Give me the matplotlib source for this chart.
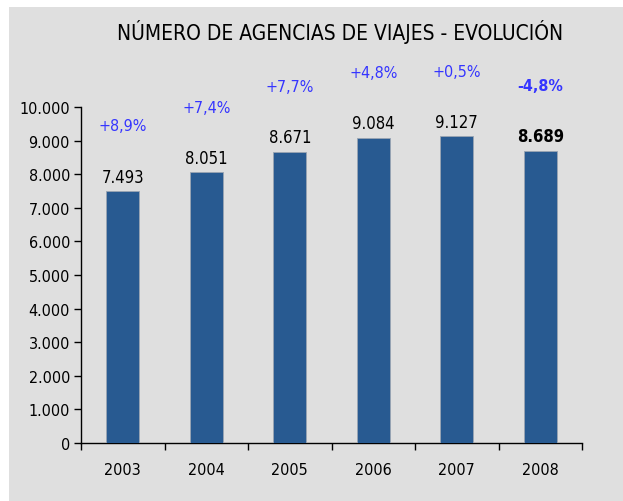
import matplotlib
matplotlib.use('Agg')
import matplotlib.pyplot as plt
from matplotlib.patches import Rectangle

# Chart data
years = ['2003', '2004', '2005', '2006', '2007', '2008']
agencias = [7493, 8051, 8671, 9084, 9127, 8689]
value_labels = ['7.493', '8.051', '8.671', '9.084', '9.127', '8.689']
pct_labels = ['+8,9%', '+7,4%', '+7,7%', '+4,8%', '+0,5%', '-4,8%']
yticks = [0, 1000, 2000, 3000, 4000, 5000, 6000, 7000, 8000, 9000, 10000]
ytick_labels = ['0', '1.000', '2.000', '3.000', '4.000', '5.000',
                '6.000', '7.000', '8.000', '9.000', '10.000']

plt.rcParams['font.family'] = ['DejaVu Sans']
plt.rcParams['font.stretch'] = 'condensed'

bg = '#dfdfdf'
bar_color = '#285a91'
pct_color = '#3535ff'

fig = plt.figure(figsize=(6.23, 5.02), dpi=100)
fig.patch.set_facecolor('white')

# gray panel behind the chart
bgax = fig.add_axes([0, 0, 1, 1], zorder=0)
bgax.set_axis_off()
bgax.add_patch(Rectangle((9 / 623, -0.01), 1, 1 - 8 / 502 + 0.01, transform=bgax.transAxes,
                         facecolor=bg, edgecolor='none'))

ax = fig.add_axes([81 / 623, 1 - 444 / 502, (582 - 81) / 623, (444 - 108) / 502], zorder=1)
ax.set_facecolor('none')

x = range(len(years))
bars = ax.bar(x, agencias, width=0.4, color=bar_color, edgecolor='#9aa5b3', linewidth=0.6, zorder=3)

ax.set_xlim(-0.5, len(years) - 0.5)
ax.set_ylim(0, 10000)
ax.set_yticks(yticks)
ax.set_yticklabels(ytick_labels, fontsize=11.5)
ax.set_xticks(list(x))
ax.set_xticklabels(years, fontsize=11.5)
# category boundary ticks on the x axis
ax.set_xticks([i - 0.5 for i in range(len(years) + 1)], minor=True)
ax.tick_params(axis='x', which='major', length=0, pad=14)
ax.tick_params(axis='x', which='minor', length=5, width=1, direction='out')
ax.tick_params(axis='y', length=5, width=1, direction='out', pad=3)

for side in ['top', 'right']:
    ax.spines[side].set_visible(False)
for side in ['left', 'bottom']:
    ax.spines[side].set_color('black')
    ax.spines[side].set_linewidth(1)

for i, (v, lab, pct) in enumerate(zip(agencias, value_labels, pct_labels)):
    last = i == len(years) - 1
    ax.annotate(lab, (i, v), xytext=(0, 4), textcoords='offset points',
                ha='center', va='bottom', fontsize=12,
                fontweight='bold' if last else 'normal', color='black')
    ax.annotate(pct, (i, v), xytext=(0, 47), textcoords='offset points',
                ha='center', va='center', fontsize=11.5,
                fontweight='bold' if last else 'normal', color=pct_color,
                annotation_clip=False)

fig.text(340 / 623, 1 - 32 / 502, 'NÚMERO DE AGENCIAS DE VIAJES - EVOLUCIÓN',
         ha='center', va='center', fontsize=15, color='black')

fig.savefig('out.png', dpi=100, facecolor=fig.get_facecolor())
